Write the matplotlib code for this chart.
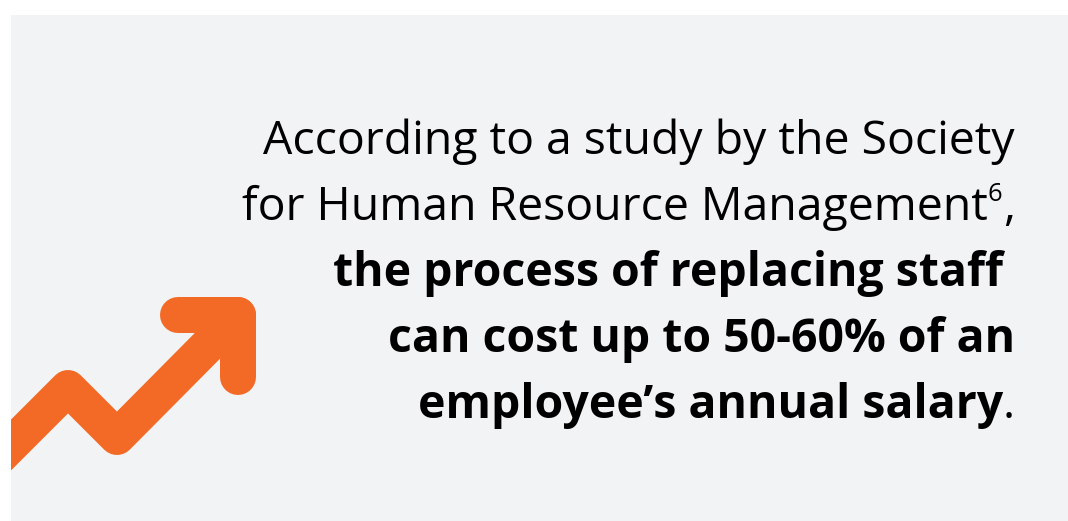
import matplotlib.pyplot as plt
from matplotlib.patches import Rectangle

W, H = 1068, 521

# text lines: (pieces of (text, weight)) right-aligned
LINES = [
    [("According to a study by the Society", "normal")],
    [("for Human Resource Management", "normal"), ("6", "sup"), (",", "normal")],
    [("the process of replacing staff ", "bold")],
    [("can cost up to 50-60% of an", "bold")],
    [("employee\u2019s annual salary", "bold"), (".", "normal")],
]
BASELINES = [154, 220, 286, 352, 418]

# trend arrow icon, pixel coords
ARROW_X = [-40, 68, 117, 238]
ARROW_Y = [496, 388, 437, 315]
HEAD_X = [178, 238, 238]
HEAD_Y = [315, 315, 377]

ORANGE = "#F26A26"
PANEL = "#F2F3F5"

fig = plt.figure(figsize=(W / 100, H / 100), dpi=100)
ax = fig.add_axes([0, 0, 1, 1])
ax.set_xlim(0, W)
ax.set_ylim(H, 0)
ax.axis("off")

panel = Rectangle((11, 15), W, H, facecolor=PANEL, edgecolor="none")
ax.add_patch(panel)

lw = 36 * 0.72
for xs, ys in [(ARROW_X, ARROW_Y), (HEAD_X, HEAD_Y)]:
    ln, = ax.plot(xs, ys, color=ORANGE, lw=lw, solid_capstyle="round",
                  solid_joinstyle="round")
    ln.set_clip_path(panel)

size = 33.4
fam = "Open Sans"
right = 1015
fig.canvas.draw()
r = fig.canvas.get_renderer()
inv = ax.transData.inverted()
for pieces, base in zip(LINES, BASELINES):
    x = right
    for txt, kind in reversed(pieces):
        if kind == "sup":
            t = ax.text(x - 1, base - 19, txt, fontsize=size * 0.55, family=fam,
                        ha="right", va="baseline", color="black")
        else:
            t = ax.text(x, base, txt, fontsize=size, family=fam, weight=kind,
                        ha="right", va="baseline", color="black")
        bb = t.get_window_extent(renderer=r)
        x0 = inv.transform((bb.x0, bb.y0))[0]
        x = x0

fig.savefig("out.png", dpi=100)
